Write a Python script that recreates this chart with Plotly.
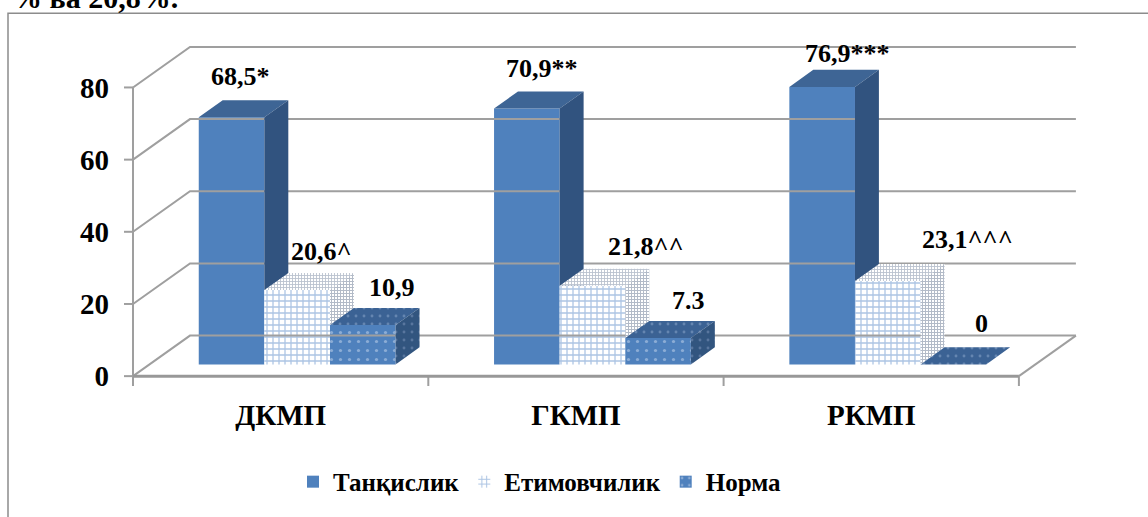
import plotly.graph_objects as go

# ---- data ----
categories = ["ДКМП", "ГКМП", "РКМП"]
series_names = ["Танқислик", "Етимовчилик", "Норма"]
tanqislik = [68.5, 70.9, 76.9]
etimovchilik = [20.6, 21.8, 23.1]
norma = [10.9, 7.3, 0]
labels_tanqislik = ["68,5*", "70,9**", "76,9***"]
labels_etimovchilik = ["20,6^", "21,8^^", "23,1^^^"]
labels_norma = ["10,9", "7.3", "0"]
y_ticks = [0, 20, 40, 60, 80]

series_values = [tanqislik, etimovchilik, norma]
series_labels = [labels_tanqislik, labels_etimovchilik, labels_norma]

# ---- pseudo-3D geometry (oblique projection) ----
W, H = 1148, 517
PL, PR, PT, PB = 120, 1085, 40, 392      # plot area in pixels
X0_PX, Y0_PX = 133, 380                  # front-left floor corner
PX_X = 295.3                             # pixels per category step
PX_Y = 3.65                              # pixels per percentage point
DEPTH_X = 57 / PX_X                      # full depth shift, x units
DEPTH_Y = 41 / PX_Y                      # full depth shift, y units
D0, D1 = 0.29, 0.71                      # bar front / back depth
BW = 2 / 9                               # bar width
b0 = D0 * DEPTH_Y
ddx = (D1 - D0) * DEPTH_X
ddy = (D1 - D0) * DEPTH_Y

x_range = [-0.5 - (X0_PX - PL) / PX_X, -0.5 + (PR - X0_PX) / PX_X]
y_range = [-(PB - Y0_PX) / PX_Y, (Y0_PX - PT) / PX_Y]

GRID = "#9F9F9F"
FONT = "Liberation Serif"

front_style = [
    dict(color="#4F81BD"),
    dict(color="#FFFFFF", pattern=dict(shape="+", fgcolor="#5A8AC8", bgcolor="#FFFFFF",
                                       size=6, solidity=0.38)),
    dict(color="#4F81BD", pattern=dict(shape=".", fgcolor="#C9D8EE", bgcolor="#4F81BD",
                                       size=9, solidity=0.1)),
]
top_style = [
    dict(fillcolor="#3E6595"),
    dict(fillcolor="#FFFFFF", fillpattern=dict(shape="+", fgcolor="#73839E", bgcolor="#FFFFFF",
                                               size=3, solidity=0.5)),
    dict(fillcolor="#3B6294", fillpattern=dict(shape=".", fgcolor="#8FA9CE", bgcolor="#3B6294",
                                               size=8, solidity=0.1)),
]
side_style = [
    dict(fillcolor="#31537F"),
    dict(fillcolor="#FFFFFF", fillpattern=dict(shape="+", fgcolor="#66768F", bgcolor="#FFFFFF",
                                               size=3, solidity=0.55)),
    dict(fillcolor="#32557F", fillpattern=dict(shape=".", fgcolor="#7F98BE", bgcolor="#32557F",
                                               size=8, solidity=0.1)),
]

# label offsets from the top-front edge centre (pixels)
label_shift = [
    [(9, 41), (24, 39), (29, 38)],
    [(15, 40), (54, 39), (30, 38)],
    [(25, 33), (80, 42), (28, 41)],
]

fig = go.Figure()

# back wall, side wall grid lines and floor
gx, gy = [], []
for v in y_ticks:
    gx += [-0.5, -0.5 + DEPTH_X, 2.5 + DEPTH_X, None]
    gy += [v, v + DEPTH_Y, v + DEPTH_Y, None]
fig.add_trace(go.Scatter(x=gx, y=gy, mode="lines", line=dict(color=GRID, width=2),
                         hoverinfo="skip", showlegend=False))

# front value axis with ticks
ax, ay = [-0.5, -0.5, None], [0, y_ticks[-1], None]
for v in y_ticks:
    ax += [-0.5 - 9 / PX_X, -0.5, None]
    ay += [v, v, None]
# category axis ticks and right floor edge
for b in [-0.5, 0.5, 1.5, 2.5]:
    ax += [b, b, None]
    ay += [0, -10 / PX_Y, None]
ax += [2.5, 2.5 + DEPTH_X, None]
ay += [0, DEPTH_Y, None]
fig.add_trace(go.Scatter(x=ax, y=ay, mode="lines", line=dict(color=GRID, width=2),
                         hoverinfo="skip", showlegend=False))
fig.add_trace(go.Scatter(x=[-0.5, 2.5], y=[0, 0], mode="lines",
                         line=dict(color="#989898", width=3),
                         hoverinfo="skip", showlegend=False))

# front faces: real bars, drawn from the values
for k, (name, vals) in enumerate(zip(series_names, series_values)):
    xs = [i + (k - 1) * BW + D0 * DEPTH_X for i in range(len(categories))]
    fig.add_trace(go.Bar(x=xs, y=vals, base=b0, width=BW, name=f"<b>{name}</b>",
                         marker=dict(line=dict(width=0), **front_style[k]),
                         hoverinfo="skip"))

# top and side faces
for k, vals in enumerate(series_values):
    tx, ty, sx, sy = [], [], [], []
    for i, v in enumerate(vals):
        xc = i + (k - 1) * BW + D0 * DEPTH_X
        xl, xr = xc - BW / 2, xc + BW / 2
        top = v + b0
        tx += [xl, xr, xr + ddx, xl + ddx, xl, None]
        ty += [top, top, top + ddy, top + ddy, top, None]
        # part of the side face not hidden by the next bar's front
        vn = series_values[k + 1][i] if k + 1 < len(series_values) else 0
        t = min(vn / ddy, 1.0)
        sx += [xr, xr, xr + ddx, xr + ddx, xr + t * ddx, xr, None]
        sy += [b0 + vn, top, top + ddy, b0 + max(ddy, vn), b0 + vn, b0 + vn, None]
    fig.add_trace(go.Scatter(x=tx, y=ty, fill="toself", mode="lines", line=dict(width=0),
                             hoverinfo="skip", showlegend=False, **top_style[k]))
    fig.add_trace(go.Scatter(x=sx, y=sy, fill="toself", mode="lines", line=dict(width=0),
                             hoverinfo="skip", showlegend=False, **side_style[k]))

# value labels
annotations = []
for k, (vals, labs) in enumerate(zip(series_values, series_labels)):
    for i, (v, lab) in enumerate(zip(vals, labs)):
        xc = i + (k - 1) * BW + D0 * DEPTH_X
        dx, dy = label_shift[i][k]
        annotations.append(dict(x=xc, y=v + b0, text=f"<b>{lab}</b>", showarrow=False,
                                xanchor="center", yanchor="middle",
                                xshift=dx, yshift=dy,
                                font=dict(family=FONT, size=26, color="#000000")))

# running text above the chart frame
annotations.append(dict(xref="paper", yref="paper",
                        x=(180 - PL) / (PR - PL), y=(PB + 3) / (PB - PT),
                        text="<b>% ва 20,8%.</b>", showarrow=False,
                        xanchor="right", yanchor="middle",
                        font=dict(family=FONT, size=30, color="#000000")))

fig.update_layout(
    width=W, height=H,
    margin=dict(l=PL, r=W - PR, t=PT, b=H - PB),
    paper_bgcolor="#FFFFFF", plot_bgcolor="#FFFFFF",
    barmode="overlay",
    font=dict(family=FONT, color="#000000"),
    xaxis=dict(range=x_range, showgrid=False, zeroline=False, showline=False,
               tickvals=list(range(len(categories))), ticktext=[f"<b>{c}</b>" for c in categories],
               ticks="", ticklabelstandoff=7,
               tickfont=dict(family=FONT, size=29, color="#000000"), fixedrange=True),
    yaxis=dict(range=y_range, showgrid=False, zeroline=False, showline=False,
               tickvals=y_ticks, ticktext=[f"<b>{v}</b>" for v in y_ticks],
               ticks="", ticklabelstandoff=10,
               tickfont=dict(family=FONT, size=29, color="#000000"), fixedrange=True),
    legend=dict(orientation="h", x=(540 - PL) / (PR - PL), xanchor="center",
                y=(PB - 487) / (PB - PT), yanchor="middle",
                font=dict(family=FONT, size=25, color="#000000"),
                bgcolor="rgba(0,0,0,0)"),
    annotations=annotations,
    shapes=[dict(type="rect", xref="paper", yref="paper",
                 x0=(8 - PL) / (PR - PL), x1=(1170 - PL) / (PR - PL),
                 y0=(PB - 540) / (PB - PT), y1=(PB - 13) / (PB - PT),
                 line=dict(color="#8C8C8C", width=1.5), layer="below")],
)

fig.write_html("out.html")
